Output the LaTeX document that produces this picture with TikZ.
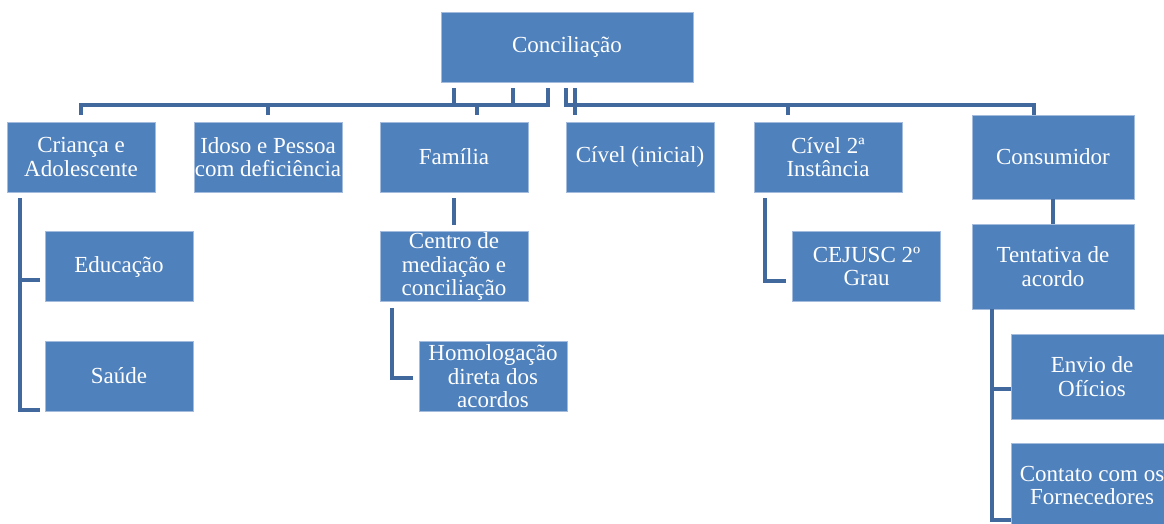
\documentclass[tikz,border=0pt]{standalone}
\usepackage{fontspec}
\setmainfont{Liberation Serif}
\definecolor{boxblue}{HTML}{4F81BD}
\definecolor{boxedge}{HTML}{A3BCDD}
\definecolor{linkblue}{HTML}{41699E}
\begin{document}
\begin{tikzpicture}[x=1pt,y=-1pt,
  box/.style={draw=boxedge, line width=0.8pt, fill=boxblue, text=white,
    inner sep=0pt, align=center, minimum width=148pt, minimum height=70pt,
    font=\fontsize{23}{23.5}\selectfont},
  widebox/.style={box, minimum width=162pt, minimum height=85pt},
  link/.style={draw=linkblue, line width=4pt}]
\useasboundingbox (0,0) rectangle (1164,524);

% top node and first level
\node[box, minimum width=252pt] (root) at (567,47) {Conciliação};
\node[box] (c1) at (81,157) {Criança e\\Adolescente};
\node[box] (c2) at (268,157) {Idoso e Pessoa\\com deficiência};
\node[box] (c3) at (454,157) {Família};
\node[box] (c4) at (640,157) {Cível (inicial)};
\node[box] (c5) at (828,157) {Cível 2ª\\Instância};
\node[widebox, minimum height=84pt] (c6) at (1053,157) {Consumidor};

% second and third level
\node[box] (e1) at (119,266.5) {Educação};
\node[box] (e2) at (119,376) {Saúde};
\node[box] (f1) at (454,266.5) {Centro de\\mediação e\\conciliação};
\node[box] (f2) at (493,376.5) {Homologação\\direta dos\\acordos};
\node[box] (g1) at (866.5,266.5) {CEJUSC 2º\\Grau};
\node[widebox] (h1) at (1053,266.5) {Tentativa de\\acordo};
\node[widebox] (h2) at (1092,376.5) {Envio de\\Ofícios};
\node[widebox] (h3) at (1092,485.5) {Contato com os\\Fornecedores};

% connectors from the top node
\coordinate (bus) at (0,105);
\coordinate (c3in) at ([xshift=23pt,yshift=7pt]c3.north);
\coordinate (c4in) at ([xshift=-65pt,yshift=7pt]c4.north);
\coordinate (c5in) at ([xshift=-40pt,yshift=7pt]c5.north);
\coordinate (c6in) at ([xshift=-19pt]c6.north);
\draw[link] ([xshift=-113pt,yshift=-6pt]root.south) |- (bus -| c1.north) -- ([yshift=7pt]c1.north);
\draw[link] ([xshift=-54pt,yshift=-6pt]root.south) |- (bus -| c2.north) -- ([yshift=7pt]c2.north);
\draw[link] ([xshift=-19pt,yshift=-6pt]root.south) |- (bus -| c3in) -- (c3in);
\draw[link] ([xshift=8pt,yshift=-6pt]root.south) -- (c4in);
\draw[link] ([xshift=-1pt,yshift=-6pt]root.south) |- (bus -| c5in) -- (c5in);
\draw[link] ([xshift=-1pt,yshift=-6pt]root.south) |- (bus -| c6in) -- (c6in);

% connectors below the first level
\draw[link] ([xshift=-61pt,yshift=-6pt]c1.south) |- ([xshift=-5pt,yshift=-13.5pt]e1.west);
\draw[link] ([xshift=-61pt,yshift=-6pt]c1.south) |- ([xshift=-5pt,yshift=-34pt]e2.west);
\draw[link] ([yshift=-6pt]c3.south) -- ([yshift=6pt]f1.north);
\draw[link] ([xshift=-62pt,yshift=-6pt]f1.south) |- ([xshift=-6pt,yshift=-1.5pt]f2.west);
\draw[link] ([xshift=-63pt,yshift=-6pt]c5.south) |- ([xshift=-6pt,yshift=-14.5pt]g1.west);
\draw[link] (c6.south) -- (h1.north);
\draw[link] ([xshift=-61pt]h1.south) |- ([yshift=-12.5pt]h2.west);
\draw[link] ([xshift=-61pt]h1.south) |- ([yshift=-34.5pt]h3.west);
\end{tikzpicture}
\end{document}
